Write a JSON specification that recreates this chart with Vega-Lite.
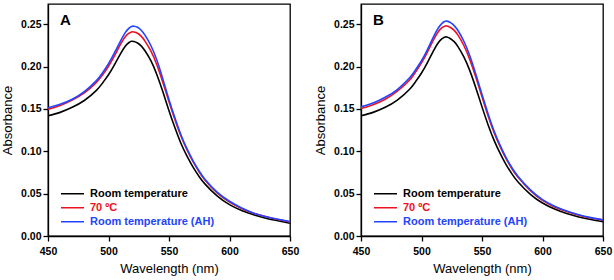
{
  "$schema": "https://vega.github.io/schema/vega-lite/v6.json",
  "autosize": {"type": "pad"},
  "padding": {"left": 0, "top": 3, "right": 0, "bottom": 4},
  "bounds": "flush",
  "spacing": 71,
  "resolve": {"legend": {"color": "independent"}},
  "config": {
    "font": "Liberation Sans",
    "view": {"stroke": "black", "strokeWidth": 1.3},
    "axis": {
      "domainColor": "black", "tickColor": "black", "labelColor": "black", "titleColor": "black",
      "labelFont": "Liberation Sans", "titleFont": "Liberation Sans",
      "labelFontWeight": "bold", "labelFontSize": 10.5, "titleFontSize": 13, "titleFontWeight": "normal",
      "grid": false, "tickSize": 5, "domainWidth": 1.3, "tickWidth": 1.3
    },
    "legend": {
      "orient": "none", "legendX": 12, "legendY": 183, "title": null,
      "symbolType": "stroke", "symbolSize": 529, "symbolStrokeWidth": 1.6,
      "clipHeight": 13.4, "rowPadding": 0, "labelOffset": 5,
      "labelFont": "Liberation Sans", "labelFontWeight": "bold", "labelFontSize": 11,
      "labelColor": {"expr": "datum.label == 'Room temperature' ? 'black' : datum.label == '70 ºC' ? '#ee1122' : '#2244ff'"}
    },
    "title": {"anchor": "start", "frame": "group", "fontSize": 15, "fontWeight": "bold", "color": "black", "font": "Liberation Sans"}
  },
  "datasets": {
    "A": [
      {"s": "Room temperature", "wl": 450, "abs": 0.142},
      {"s": "Room temperature", "wl": 460, "abs": 0.146},
      {"s": "Room temperature", "wl": 470, "abs": 0.152},
      {"s": "Room temperature", "wl": 480, "abs": 0.160},
      {"s": "Room temperature", "wl": 490, "abs": 0.172},
      {"s": "Room temperature", "wl": 495, "abs": 0.1805},
      {"s": "Room temperature", "wl": 500, "abs": 0.1905},
      {"s": "Room temperature", "wl": 505, "abs": 0.2025},
      {"s": "Room temperature", "wl": 510, "abs": 0.2155},
      {"s": "Room temperature", "wl": 514, "abs": 0.2245},
      {"s": "Room temperature", "wl": 517, "abs": 0.2285},
      {"s": "Room temperature", "wl": 519, "abs": 0.2300},
      {"s": "Room temperature", "wl": 521, "abs": 0.2297},
      {"s": "Room temperature", "wl": 524, "abs": 0.2280},
      {"s": "Room temperature", "wl": 527, "abs": 0.2245},
      {"s": "Room temperature", "wl": 530, "abs": 0.2190},
      {"s": "Room temperature", "wl": 535, "abs": 0.2070},
      {"s": "Room temperature", "wl": 540, "abs": 0.1905},
      {"s": "Room temperature", "wl": 545, "abs": 0.1700},
      {"s": "Room temperature", "wl": 550, "abs": 0.1480},
      {"s": "Room temperature", "wl": 555, "abs": 0.1275},
      {"s": "Room temperature", "wl": 560, "abs": 0.1090},
      {"s": "Room temperature", "wl": 565, "abs": 0.0940},
      {"s": "Room temperature", "wl": 570, "abs": 0.0810},
      {"s": "Room temperature", "wl": 575, "abs": 0.0700},
      {"s": "Room temperature", "wl": 580, "abs": 0.0610},
      {"s": "Room temperature", "wl": 590, "abs": 0.0470},
      {"s": "Room temperature", "wl": 600, "abs": 0.0370},
      {"s": "Room temperature", "wl": 610, "abs": 0.0300},
      {"s": "Room temperature", "wl": 620, "abs": 0.0250},
      {"s": "Room temperature", "wl": 630, "abs": 0.0210},
      {"s": "Room temperature", "wl": 640, "abs": 0.0180},
      {"s": "Room temperature", "wl": 650, "abs": 0.0150},
      {"s": "70 ºC", "wl": 450, "abs": 0.1496},
      {"s": "70 ºC", "wl": 460, "abs": 0.1540},
      {"s": "70 ºC", "wl": 470, "abs": 0.1605},
      {"s": "70 ºC", "wl": 480, "abs": 0.1690},
      {"s": "70 ºC", "wl": 490, "abs": 0.1815},
      {"s": "70 ºC", "wl": 495, "abs": 0.1900},
      {"s": "70 ºC", "wl": 500, "abs": 0.2005},
      {"s": "70 ºC", "wl": 505, "abs": 0.2130},
      {"s": "70 ºC", "wl": 510, "abs": 0.2265},
      {"s": "70 ºC", "wl": 514, "abs": 0.2355},
      {"s": "70 ºC", "wl": 517, "abs": 0.2395},
      {"s": "70 ºC", "wl": 519, "abs": 0.2410},
      {"s": "70 ºC", "wl": 521, "abs": 0.2410},
      {"s": "70 ºC", "wl": 524, "abs": 0.2395},
      {"s": "70 ºC", "wl": 527, "abs": 0.2360},
      {"s": "70 ºC", "wl": 530, "abs": 0.2305},
      {"s": "70 ºC", "wl": 535, "abs": 0.2185},
      {"s": "70 ºC", "wl": 540, "abs": 0.2020},
      {"s": "70 ºC", "wl": 545, "abs": 0.1810},
      {"s": "70 ºC", "wl": 550, "abs": 0.1585},
      {"s": "70 ºC", "wl": 555, "abs": 0.1370},
      {"s": "70 ºC", "wl": 560, "abs": 0.1175},
      {"s": "70 ºC", "wl": 565, "abs": 0.1015},
      {"s": "70 ºC", "wl": 570, "abs": 0.0875},
      {"s": "70 ºC", "wl": 575, "abs": 0.0755},
      {"s": "70 ºC", "wl": 580, "abs": 0.0655},
      {"s": "70 ºC", "wl": 590, "abs": 0.0505},
      {"s": "70 ºC", "wl": 600, "abs": 0.0400},
      {"s": "70 ºC", "wl": 610, "abs": 0.0325},
      {"s": "70 ºC", "wl": 620, "abs": 0.0270},
      {"s": "70 ºC", "wl": 630, "abs": 0.0230},
      {"s": "70 ºC", "wl": 640, "abs": 0.0195},
      {"s": "70 ºC", "wl": 650, "abs": 0.0165},
      {"s": "Room temperature (AH)", "wl": 450, "abs": 0.1515},
      {"s": "Room temperature (AH)", "wl": 460, "abs": 0.1555},
      {"s": "Room temperature (AH)", "wl": 470, "abs": 0.1615},
      {"s": "Room temperature (AH)", "wl": 480, "abs": 0.1705},
      {"s": "Room temperature (AH)", "wl": 490, "abs": 0.1835},
      {"s": "Room temperature (AH)", "wl": 495, "abs": 0.1925},
      {"s": "Room temperature (AH)", "wl": 500, "abs": 0.2035},
      {"s": "Room temperature (AH)", "wl": 505, "abs": 0.2165},
      {"s": "Room temperature (AH)", "wl": 510, "abs": 0.2305},
      {"s": "Room temperature (AH)", "wl": 514, "abs": 0.2405},
      {"s": "Room temperature (AH)", "wl": 517, "abs": 0.2455},
      {"s": "Room temperature (AH)", "wl": 519, "abs": 0.2475},
      {"s": "Room temperature (AH)", "wl": 521, "abs": 0.2478},
      {"s": "Room temperature (AH)", "wl": 524, "abs": 0.2465},
      {"s": "Room temperature (AH)", "wl": 527, "abs": 0.2430},
      {"s": "Room temperature (AH)", "wl": 530, "abs": 0.2375},
      {"s": "Room temperature (AH)", "wl": 535, "abs": 0.2250},
      {"s": "Room temperature (AH)", "wl": 540, "abs": 0.2075},
      {"s": "Room temperature (AH)", "wl": 545, "abs": 0.1850},
      {"s": "Room temperature (AH)", "wl": 550, "abs": 0.1610},
      {"s": "Room temperature (AH)", "wl": 555, "abs": 0.1390},
      {"s": "Room temperature (AH)", "wl": 560, "abs": 0.1190},
      {"s": "Room temperature (AH)", "wl": 565, "abs": 0.1025},
      {"s": "Room temperature (AH)", "wl": 570, "abs": 0.0885},
      {"s": "Room temperature (AH)", "wl": 575, "abs": 0.0765},
      {"s": "Room temperature (AH)", "wl": 580, "abs": 0.0665},
      {"s": "Room temperature (AH)", "wl": 590, "abs": 0.0515},
      {"s": "Room temperature (AH)", "wl": 600, "abs": 0.0410},
      {"s": "Room temperature (AH)", "wl": 610, "abs": 0.0330},
      {"s": "Room temperature (AH)", "wl": 620, "abs": 0.0270},
      {"s": "Room temperature (AH)", "wl": 630, "abs": 0.0228},
      {"s": "Room temperature (AH)", "wl": 640, "abs": 0.0197},
      {"s": "Room temperature (AH)", "wl": 650, "abs": 0.0170}
    ],
    "B": [
      {"s": "Room temperature", "wl": 450, "abs": 0.142},
      {"s": "Room temperature", "wl": 460, "abs": 0.146},
      {"s": "Room temperature", "wl": 470, "abs": 0.152},
      {"s": "Room temperature", "wl": 480, "abs": 0.1605},
      {"s": "Room temperature", "wl": 490, "abs": 0.1730},
      {"s": "Room temperature", "wl": 495, "abs": 0.1820},
      {"s": "Room temperature", "wl": 500, "abs": 0.1925},
      {"s": "Room temperature", "wl": 505, "abs": 0.2050},
      {"s": "Room temperature", "wl": 510, "abs": 0.2190},
      {"s": "Room temperature", "wl": 514, "abs": 0.2285},
      {"s": "Room temperature", "wl": 517, "abs": 0.2330},
      {"s": "Room temperature", "wl": 519, "abs": 0.2348},
      {"s": "Room temperature", "wl": 521, "abs": 0.2350},
      {"s": "Room temperature", "wl": 524, "abs": 0.2330},
      {"s": "Room temperature", "wl": 527, "abs": 0.2295},
      {"s": "Room temperature", "wl": 530, "abs": 0.2240},
      {"s": "Room temperature", "wl": 535, "abs": 0.2115},
      {"s": "Room temperature", "wl": 540, "abs": 0.1950},
      {"s": "Room temperature", "wl": 545, "abs": 0.1745},
      {"s": "Room temperature", "wl": 550, "abs": 0.1525},
      {"s": "Room temperature", "wl": 555, "abs": 0.1315},
      {"s": "Room temperature", "wl": 560, "abs": 0.1130},
      {"s": "Room temperature", "wl": 565, "abs": 0.0975},
      {"s": "Room temperature", "wl": 570, "abs": 0.0840},
      {"s": "Room temperature", "wl": 575, "abs": 0.0728},
      {"s": "Room temperature", "wl": 580, "abs": 0.0635},
      {"s": "Room temperature", "wl": 590, "abs": 0.0492},
      {"s": "Room temperature", "wl": 600, "abs": 0.0390},
      {"s": "Room temperature", "wl": 610, "abs": 0.0318},
      {"s": "Room temperature", "wl": 620, "abs": 0.0265},
      {"s": "Room temperature", "wl": 630, "abs": 0.0225},
      {"s": "Room temperature", "wl": 640, "abs": 0.0195},
      {"s": "Room temperature", "wl": 650, "abs": 0.0170},
      {"s": "70 ºC", "wl": 450, "abs": 0.1505},
      {"s": "70 ºC", "wl": 460, "abs": 0.1551},
      {"s": "70 ºC", "wl": 470, "abs": 0.1615},
      {"s": "70 ºC", "wl": 480, "abs": 0.1710},
      {"s": "70 ºC", "wl": 490, "abs": 0.1840},
      {"s": "70 ºC", "wl": 495, "abs": 0.1935},
      {"s": "70 ºC", "wl": 500, "abs": 0.2045},
      {"s": "70 ºC", "wl": 505, "abs": 0.2175},
      {"s": "70 ºC", "wl": 510, "abs": 0.2318},
      {"s": "70 ºC", "wl": 514, "abs": 0.2415},
      {"s": "70 ºC", "wl": 517, "abs": 0.2460},
      {"s": "70 ºC", "wl": 519, "abs": 0.2478},
      {"s": "70 ºC", "wl": 521, "abs": 0.2481},
      {"s": "70 ºC", "wl": 524, "abs": 0.2462},
      {"s": "70 ºC", "wl": 527, "abs": 0.2428},
      {"s": "70 ºC", "wl": 530, "abs": 0.2375},
      {"s": "70 ºC", "wl": 535, "abs": 0.2250},
      {"s": "70 ºC", "wl": 540, "abs": 0.2080},
      {"s": "70 ºC", "wl": 545, "abs": 0.1872},
      {"s": "70 ºC", "wl": 550, "abs": 0.1645},
      {"s": "70 ºC", "wl": 555, "abs": 0.1420},
      {"s": "70 ºC", "wl": 560, "abs": 0.1220},
      {"s": "70 ºC", "wl": 565, "abs": 0.1055},
      {"s": "70 ºC", "wl": 570, "abs": 0.0910},
      {"s": "70 ºC", "wl": 575, "abs": 0.0788},
      {"s": "70 ºC", "wl": 580, "abs": 0.0690},
      {"s": "70 ºC", "wl": 590, "abs": 0.0534},
      {"s": "70 ºC", "wl": 600, "abs": 0.0420},
      {"s": "70 ºC", "wl": 610, "abs": 0.0343},
      {"s": "70 ºC", "wl": 620, "abs": 0.0288},
      {"s": "70 ºC", "wl": 630, "abs": 0.0245},
      {"s": "70 ºC", "wl": 640, "abs": 0.0213},
      {"s": "70 ºC", "wl": 650, "abs": 0.0190},
      {"s": "Room temperature (AH)", "wl": 450, "abs": 0.1525},
      {"s": "Room temperature (AH)", "wl": 460, "abs": 0.1570},
      {"s": "Room temperature (AH)", "wl": 470, "abs": 0.1638},
      {"s": "Room temperature (AH)", "wl": 480, "abs": 0.1730},
      {"s": "Room temperature (AH)", "wl": 490, "abs": 0.1865},
      {"s": "Room temperature (AH)", "wl": 495, "abs": 0.1960},
      {"s": "Room temperature (AH)", "wl": 500, "abs": 0.2070},
      {"s": "Room temperature (AH)", "wl": 505, "abs": 0.2205},
      {"s": "Room temperature (AH)", "wl": 510, "abs": 0.2355},
      {"s": "Room temperature (AH)", "wl": 514, "abs": 0.2460},
      {"s": "Room temperature (AH)", "wl": 517, "abs": 0.2512},
      {"s": "Room temperature (AH)", "wl": 519, "abs": 0.2533},
      {"s": "Room temperature (AH)", "wl": 521, "abs": 0.2538},
      {"s": "Room temperature (AH)", "wl": 524, "abs": 0.2520},
      {"s": "Room temperature (AH)", "wl": 527, "abs": 0.2485},
      {"s": "Room temperature (AH)", "wl": 530, "abs": 0.2430},
      {"s": "Room temperature (AH)", "wl": 535, "abs": 0.2300},
      {"s": "Room temperature (AH)", "wl": 540, "abs": 0.2125},
      {"s": "Room temperature (AH)", "wl": 545, "abs": 0.1905},
      {"s": "Room temperature (AH)", "wl": 550, "abs": 0.1670},
      {"s": "Room temperature (AH)", "wl": 555, "abs": 0.1445},
      {"s": "Room temperature (AH)", "wl": 560, "abs": 0.1240},
      {"s": "Room temperature (AH)", "wl": 565, "abs": 0.1070},
      {"s": "Room temperature (AH)", "wl": 570, "abs": 0.0922},
      {"s": "Room temperature (AH)", "wl": 575, "abs": 0.0800},
      {"s": "Room temperature (AH)", "wl": 580, "abs": 0.0700},
      {"s": "Room temperature (AH)", "wl": 590, "abs": 0.0545},
      {"s": "Room temperature (AH)", "wl": 600, "abs": 0.0430},
      {"s": "Room temperature (AH)", "wl": 610, "abs": 0.0352},
      {"s": "Room temperature (AH)", "wl": 620, "abs": 0.0295},
      {"s": "Room temperature (AH)", "wl": 630, "abs": 0.0250},
      {"s": "Room temperature (AH)", "wl": 640, "abs": 0.0217},
      {"s": "Room temperature (AH)", "wl": 650, "abs": 0.0190}
    ]
  },
  "hconcat": [
    {
      "width": 242, "height": 232,
      "title": {"text": "A", "dx": 12, "dy": 36, "baseline": "alphabetic", "offset": 0},
      "data": {"name": "A"},
      "mark": {"type": "line", "interpolate": "natural", "strokeWidth": 1.6},
      "encoding": {
        "x": {"field": "wl", "type": "quantitative", "scale": {"domain": [450, 650], "nice": false},
          "axis": {"title": "Wavelength  (nm)", "values": [450, 500, 550, 600, 650], "labelPadding": 5, "titlePadding": 6, "labelFlush": false}},
        "y": {"field": "abs", "type": "quantitative", "scale": {"domain": [0, 0.274], "nice": false},
          "axis": {"title": "Absorbance", "values": [0, 0.05, 0.1, 0.15, 0.2, 0.25], "format": ".2f", "labelPadding": 2, "titlePadding": 6}},
        "color": {"field": "s", "type": "nominal",
          "scale": {"domain": ["Room temperature", "70 ºC", "Room temperature (AH)"], "range": ["black", "#ee1122", "#2244ff"]}},
        "order": {"value": 0}
      }
    },
    {
      "width": 242, "height": 232,
      "title": {"text": "B", "dx": 12, "dy": 36, "baseline": "alphabetic", "offset": 0},
      "data": {"name": "B"},
      "mark": {"type": "line", "interpolate": "natural", "strokeWidth": 1.6},
      "encoding": {
        "x": {"field": "wl", "type": "quantitative", "scale": {"domain": [450, 650], "nice": false},
          "axis": {"title": "Wavelength (nm)", "values": [450, 500, 550, 600, 650], "labelPadding": 5, "titlePadding": 6, "labelFlush": false}},
        "y": {"field": "abs", "type": "quantitative", "scale": {"domain": [0, 0.274], "nice": false},
          "axis": {"title": "Absorbance", "values": [0, 0.05, 0.1, 0.15, 0.2, 0.25], "format": ".2f", "labelPadding": 2, "titlePadding": 6}},
        "color": {"field": "s", "type": "nominal",
          "scale": {"domain": ["Room temperature", "70 ºC", "Room temperature (AH)"], "range": ["black", "#ee1122", "#2244ff"]}},
        "order": {"value": 0}
      }
    }
  ]
}
